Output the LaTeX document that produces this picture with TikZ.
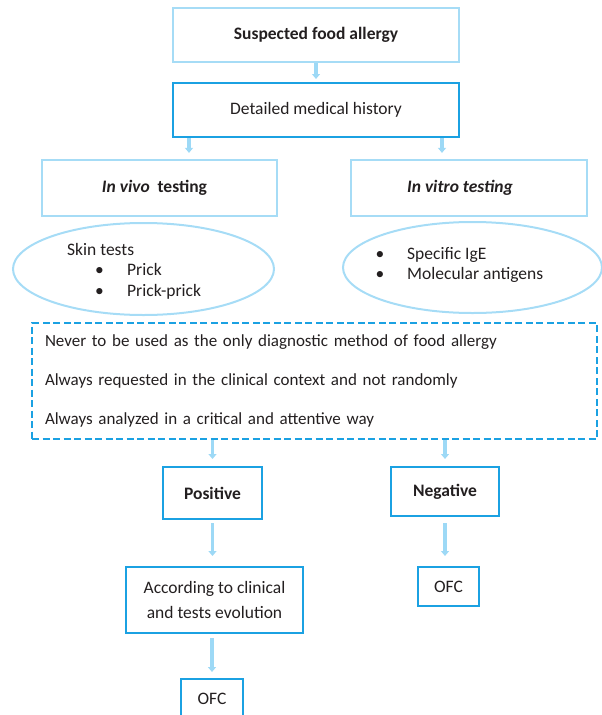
\documentclass[tikz,border=0pt]{standalone}
\usepackage{fontspec}
\setmainfont{Carlito}
\usepackage{xcolor}
\usetikzlibrary{arrows.meta,positioning,calc,shapes.geometric}

\definecolor{paleblue}{HTML}{A6DCF6}
\definecolor{deepblue}{HTML}{1BA1E2}
\definecolor{arrowblue}{HTML}{9DD9F6}
\definecolor{inkgray}{HTML}{231F20}
\newcommand\bodysize{\fontsize{17.5}{21}\selectfont}

\begin{document}
\begin{tikzpicture}[x=1pt, y=-1pt,
  every node/.style={font=\bodysize, text=inkgray},
  palebox/.style={rectangle, draw=paleblue, line width=2.2pt, inner sep=0pt},
  deepbox/.style={rectangle, draw=deepblue, line width=2pt, inner sep=0pt},
  oval/.style={ellipse, draw=paleblue, line width=2pt, inner sep=0pt},
  listtxt/.style={anchor=base west, inner sep=0pt},
  dot/.style={anchor=base, inner sep=0pt},
  flow/.style={draw=arrowblue, line width=3.5pt, -{Triangle[width=8pt,length=5pt]}, shorten >=6pt}]

\useasboundingbox (0,0) rectangle (602,715);

% ======================================================================
% TOP : SUSPICION AND HISTORY
% ======================================================================
\node[palebox, minimum width=286, minimum height=54, font=\bodysize\bfseries] (suspect) at (316,35)
  {Suspected food allergy};
\node[deepbox, minimum width=286, minimum height=54] (history) at (316,110)
  {Detailed medical history};
\draw[flow, shorten >=3pt] (suspect) -- (history);

% ======================================================================
% MIDDLE : IN VIVO / IN VITRO BRANCHES
% ======================================================================
% (trailing space pushes the label a bit left of centre)
\node[palebox, minimum width=235, minimum height=56, font=\bodysize\bfseries] (invivo) at (159.5,188)
  {\textit{In vivo}\ \ testing\hspace*{10pt}};
\node[palebox, minimum width=236, minimum height=56, font=\bodysize\bfseries\itshape] (invitro) at (469,188)
  {In vitro testing\hspace*{18pt}};

% arrows leave the history box off-centre
\coordinate (histL) at ($(history.south west)+(17,0)$);
\coordinate (histR) at ($(history.south east)+(-18,0)$);
\draw[flow] (histL) -- (histL |- invivo.north);
\draw[flow] (histR) -- (histR |- invitro.north);

% ovals with the test lists
\node[oval, minimum width=261, minimum height=92] (skin) at (143.5,269) {};
\node[oval, minimum width=259, minimum height=91] (serum) at (472.5,267.5) {};

\node[listtxt] (skinhead) at (67,255) {Skin tests};
\foreach \y/\lab [count=\i] in {275/Prick, 296/Prick-prick}{
  \node[dot] (dotL\i) at (99.5,\y) {\textbullet};
  \node[listtxt] (itemL\i) at (127,\y) {\lab};
}
\foreach \y/\lab [count=\i] in {259/Specific IgE, 279/Molecular antigens}{
  \node[dot] (dotR\i) at (380,\y) {\textbullet};
  \node[listtxt] (itemR\i) at (407,\y) {\lab};
}

% dashed caveat box
\node[deepbox, dash pattern=on 7pt off 3.5pt, minimum width=565, minimum height=116,
      align=left, text width=539pt, inner xsep=13pt, font=\fontsize{17}{39}\selectfont]
      (caveat) at (314.5,381)
  {Never to be used as the only diagnostic method of food allergy\\
   Always requested in the clinical context and not randomly\\
   Always analyzed in a critical and attentive way};

% ======================================================================
% BOTTOM : RESULTS AND OFC
% ======================================================================
\node[deepbox, minimum width=99, minimum height=52, font=\bodysize\bfseries] (positive) at (212.5,493) {Positive};
\node[deepbox, minimum width=108, minimum height=49, font=\bodysize\bfseries] (negative) at (445,491.5) {Negative};
\draw[flow, shorten >=7pt] (caveat.south -| positive.north) -- (positive.north);
\draw[flow, shorten >=7pt] (caveat.south -| negative.north) -- (negative.north);

\node[deepbox, minimum width=177, minimum height=66, align=center, font=\fontsize{17.5}{25}\selectfont]
  (course) at (214.5,600) {According to clinical\\and tests evolution};
\node[deepbox, minimum width=62, minimum height=39] (ofcpos) at (212,698.5) {OFC};
\node[deepbox, minimum width=61, minimum height=39] (ofcneg) at (448.5,586.5) {OFC};

\draw[flow, shorten <=3pt, shorten >=10pt] (positive.south) -- (positive.south |- course.north);
\draw[flow, shorten <=4pt] (course.south -| ofcpos.north) -- (ofcpos.north);
\draw[flow, shorten <=6pt, shorten >=10pt] (negative.south) -- (negative.south |- ofcneg.north);

\end{tikzpicture}
\end{document}
